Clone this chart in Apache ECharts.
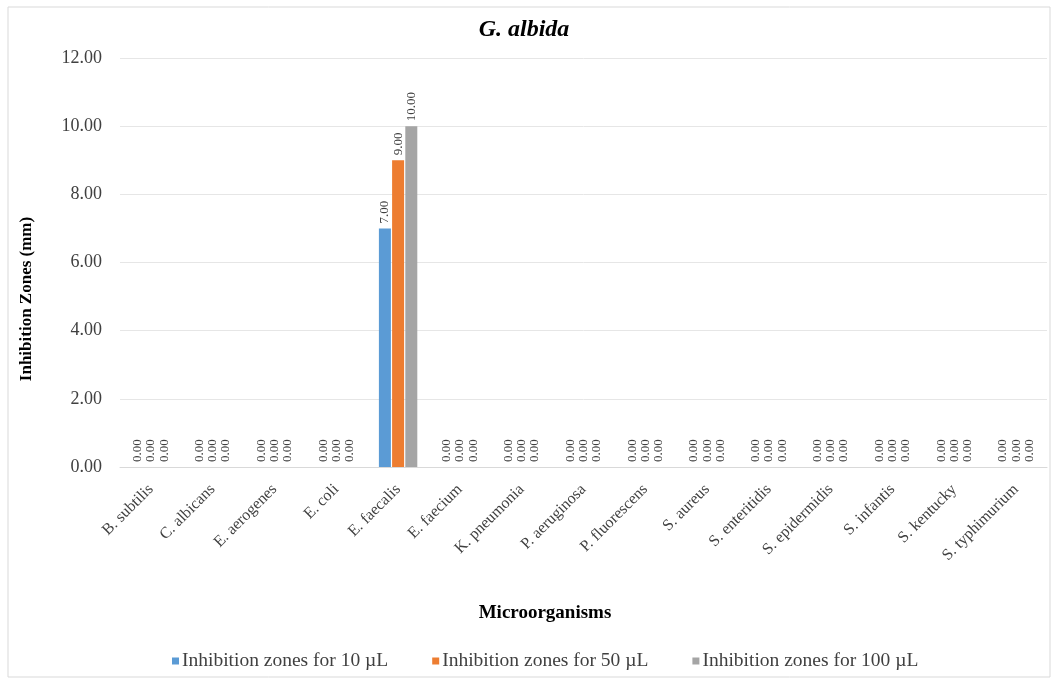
<!DOCTYPE html>
<html>
<head>
<meta charset="utf-8">
<script src="https://cdn.jsdelivr.net/npm/echarts@6/dist/echarts.min.js"></script>
<style>
  html, body { margin: 0; padding: 0; background: #fff; }
  #chart { width: 1059px; height: 684px; }
</style>
</head>
<body>
<div id="chart"></div>
<script>
// Inhibition zones produced by G. albida extract against each microorganism
const organisms = [
  'B. subtilis', 'C. albicans', 'E. aerogenes', 'E. coli', 'E. faecalis',
  'E. faecium', 'K. pneumonia', 'P. aeruginosa', 'P. fluorescens', 'S. aureus',
  'S. enteritidis', 'S. epidermidis', 'S. infantis', 'S. kentucky', 'S. typhimurium'
];
const zones10uL  = [0, 0, 0, 0, 7, 0, 0, 0, 0, 0, 0, 0, 0, 0, 0];
const zones50uL  = [0, 0, 0, 0, 9, 0, 0, 0, 0, 0, 0, 0, 0, 0, 0];
const zones100uL = [0, 0, 0, 0, 10, 0, 0, 0, 0, 0, 0, 0, 0, 0, 0];
const seriesNames = [
  'Inhibition zones for 10 µL',
  'Inhibition zones for 50 µL',
  'Inhibition zones for 100 µL'
];
const seriesColors = ['#5B9BD5', '#ED7D31', '#A5A5A5'];

const serif = '"Liberation Serif", "DejaVu Serif", serif';

function barSeries(name, data, color) {
  return {
    name: name,
    type: 'bar',
    data: data,
    barWidth: 12,
    barGap: '10%',
    itemStyle: { color: color },
    label: {
      show: true,
      position: 'top',
      rotate: 90,
      align: 'left',
      verticalAlign: 'middle',
      distance: 5,
      fontFamily: serif,
      fontSize: 13,
      color: '#404040',
      formatter: p => p.value.toFixed(2)
    }
  };
}

const chart = echarts.init(document.getElementById('chart'));
chart.setOption({
  backgroundColor: '#fff',
  animation: false,
  graphic: [{
    type: 'rect',
    shape: { x: 8, y: 7, width: 1042, height: 670 },
    style: { fill: 'none', stroke: '#d9d9d9', lineWidth: 1 },
    silent: true
  }, {
    // value axis title
    type: 'text',
    x: 27,
    y: 299,
    rotation: Math.PI / 2,
    style: {
      text: 'Inhibition Zones (mm)',
      fontFamily: serif,
      fontWeight: 'bold',
      fontSize: 17,
      fill: '#000',
      align: 'center',
      verticalAlign: 'middle'
    },
    silent: true
  }],
  title: [{
    text: 'G. albida',
    left: 519,
    top: 13,
    textAlign: 'center',
    textStyle: {
      fontFamily: serif,
      fontStyle: 'italic',
      fontWeight: 'bold',
      fontSize: 24,
      color: '#000'
    }
  }, {
    text: 'Microorganisms',
    left: 540,
    top: 599,
    textAlign: 'center',
    textStyle: {
      fontFamily: serif,
      fontWeight: 'bold',
      fontSize: 19,
      color: '#000'
    }
  }],
  legend: {
    bottom: 8,
    left: 167,
    itemWidth: 7,
    itemHeight: 7,
    itemGap: 44,
    icon: 'rect',
    textStyle: { fontFamily: serif, fontSize: 19.5, color: '#404040', padding: [0, 0, 0, -2] },
    data: seriesNames
  },
  grid: { left: 120, right: 12, top: 58, bottom: 217 },
  xAxis: {
    type: 'category',
    data: organisms,
    axisLine: { lineStyle: { color: '#d9d9d9' } },
    axisTick: { show: false },
    axisLabel: {
      interval: 0,
      rotate: 45,
      margin: 20,
      fontFamily: serif,
      fontSize: 16,
      color: '#404040'
    }
  },
  yAxis: {
    type: 'value',
    min: 0,
    max: 12,
    interval: 2,
    axisLine: { show: false },
    axisTick: { show: false },
    splitLine: { lineStyle: { color: '#e6e6e6' } },
    axisLabel: {
      margin: 18,
      fontFamily: serif,
      fontSize: 18,
      color: '#404040',
      formatter: v => v.toFixed(2)
    }
  },
  series: [
    barSeries(seriesNames[0], zones10uL, seriesColors[0]),
    barSeries(seriesNames[1], zones50uL, seriesColors[1]),
    barSeries(seriesNames[2], zones100uL, seriesColors[2])
  ]
});
</script>
</body>
</html>
